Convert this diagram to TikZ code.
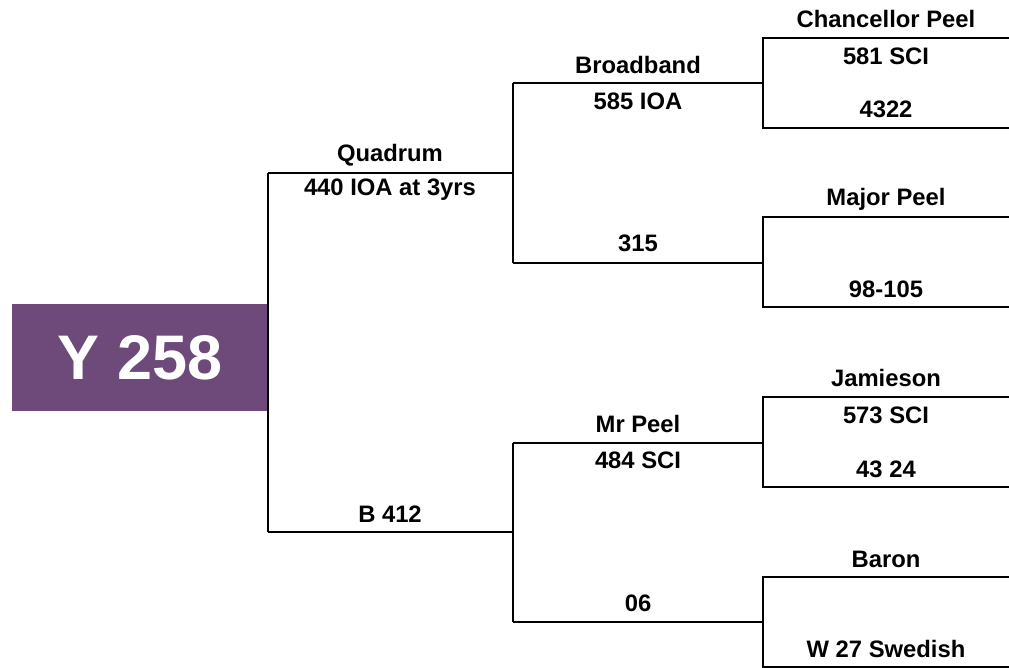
\documentclass[tikz,border=0pt]{standalone}
\usepackage{fontspec}
\setmainfont{Liberation Sans}
\definecolor{rootpurple}{RGB}{109,74,121}
\begin{document}
\begin{tikzpicture}[x=1pt,y=-1pt,
  conn/.style={line width=2pt, black},
  lbl/.style={inner sep=0pt, font=\bfseries\fontsize{23.8}{27}\selectfont, anchor=center},
  rootbox/.style={fill=rootpurple, text=white, inner sep=0pt, minimum width=256pt, minimum height=107pt, font=\bfseries\fontsize{63}{70}\selectfont}]
\useasboundingbox (0,0) rectangle (1009,668);
% root
\node[rootbox] (root) at (140,357.5) {Y 258};
% level 1 coordinates
\coordinate (r1t) at (268,173);
\coordinate (r1b) at (268,532);
\coordinate (qend) at (513,173);
\coordinate (bend) at (513,532);
% level 2
\coordinate (q2t) at (513,83);
\coordinate (q2b) at (513,263);
\coordinate (b2t) at (513,443);
\coordinate (b2b) at (513,622);
\coordinate (q2te) at (763,83);
\coordinate (q2be) at (763,263);
\coordinate (b2te) at (763,443);
\coordinate (b2be) at (763,622);
% level 3 brackets
\coordinate (c1t) at (763,38);  \coordinate (c1te) at (1009,38);
\coordinate (c1b) at (763,128); \coordinate (c1be) at (1009,128);
\coordinate (m1t) at (763,217); \coordinate (m1te) at (1009,217);
\coordinate (m1b) at (763,307); \coordinate (m1be) at (1009,307);
\coordinate (j1t) at (763,397); \coordinate (j1te) at (1009,397);
\coordinate (j1b) at (763,487); \coordinate (j1be) at (1009,487);
\coordinate (n1t) at (763,577); \coordinate (n1te) at (1009,577);
\coordinate (n1b) at (763,667); \coordinate (n1be) at (1009,667);
% connectors
\draw[conn] (r1t) -- (r1b);
\draw[conn] (r1t) -- (qend);
\draw[conn] (r1b) -- (bend);
\draw[conn] (q2t) -- (q2b);
\draw[conn] (b2t) -- (b2b);
\draw[conn] (q2t) -- (q2te);
\draw[conn] (q2b) -- (q2be);
\draw[conn] (b2t) -- (b2te);
\draw[conn] (b2b) -- (b2be);
\draw[conn] (c1te) -- (c1t) -- (c1b) -- (c1be);
\draw[conn] (m1te) -- (m1t) -- (m1b) -- (m1be);
\draw[conn] (j1te) -- (j1t) -- (j1b) -- (j1be);
\draw[conn] (n1te) -- (n1t) -- (n1b) -- (n1be);
% labels
\node[lbl] (quad) at (390,155) {Quadrum};
\node[lbl] (quadv) at (390,190) {440 IOA at 3yrs};
\node[lbl] (b412) at (390,514) {B 412};
\node[lbl] (broad) at (638,65) {Broadband};
\node[lbl] (broadv) at (638,101) {585 IOA};
\node[lbl] (t315) at (638,243) {315};
\node[lbl] (mrpeel) at (638,424) {Mr Peel};
\node[lbl] (mrpeelv) at (638,460) {484 SCI};
\node[lbl] (t06) at (638,603) {06};
\node[lbl] (chanc) at (886,19) {Chancellor Peel};
\node[lbl] (chancv) at (886,56) {581 SCI};
\node[lbl] (chancw) at (886,109) {4322};
\node[lbl] (major) at (886,199) {Major Peel};
\node[lbl] (majorw) at (886,289) {98-105};
\node[lbl] (jam) at (886,378) {Jamieson};
\node[lbl] (jamv) at (886,415) {573 SCI};
\node[lbl] (jamw) at (886,469) {43 24};
\node[lbl] (baron) at (886,559) {Baron};
\node[lbl] (baronw) at (886,649) {W 27 Swedish};
\end{tikzpicture}
\end{document}
